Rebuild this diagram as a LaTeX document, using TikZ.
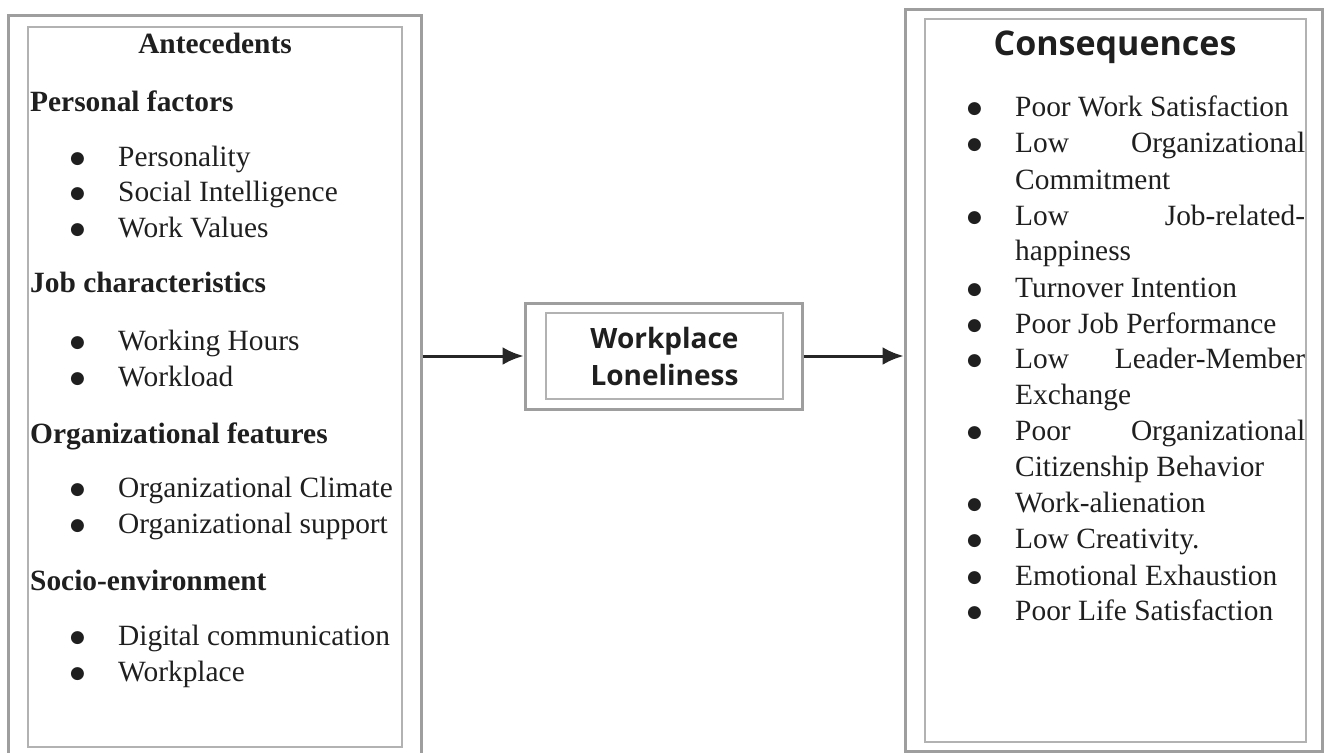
\documentclass[tikz,border=0pt]{standalone}
\usepackage{fontspec}
\setmainfont{Liberation Serif}
\newfontfamily\headfont{Open Sans}
\newfontfamily\dotfont{DejaVu Sans}
\usetikzlibrary{positioning}
\usetikzlibrary{arrows.meta}
\tikzset{
        frame/.style={rectangle, inner sep=0pt},
        % Outer frames
        frame_outer/.style={frame, draw=black!38, line width=3pt},
        % Inner frames
        frame_inner/.style={frame, draw=black!30, line width=1.3pt},
        % List lines
        list_text/.style={anchor=base west, inner sep=0pt, text=black!88, font=\fontsize{29.4}{35}\selectfont},
        % Group headings
        list_head/.style={list_text, font=\fontsize{29.4}{35}\selectfont\bfseries},
        % Sans headings
        sans_head/.style={inner sep=0pt, align=center, text=black!88, font=\headfont\bfseries},
        % Flow arrows
        flow_arrow/.style={-{Latex[length=21pt,width=18pt]}, line width=3pt, draw=black!85}
}
\newcommand{\bul}{\makebox[45pt][l]{\hspace*{-3pt}\raisebox{2.5pt}{\dotfont\fontsize{17}{17}\selectfont ●}}}
\newcommand{\nobul}{\hspace*{45pt}}

\begin{document}
\begin{tikzpicture}[x=1pt, y=-1pt]
            \useasboundingbox (0,0) rectangle (1327,752);
            % frames
            \node[frame_outer, minimum width=413pt, minimum height=754pt] (ante_outer) at (214.5,393) {};
            \node[frame_inner, minimum width=374pt, minimum height=720pt] (ante_inner) at (215,387) {};
            \node[frame_outer, minimum width=277pt, minimum height=106pt] (mid_outer) at (663.5,356) {};
            \node[frame_inner, minimum width=237pt, minimum height=86pt] (mid_inner) at (664.5,356) {};
            \node[frame_outer, minimum width=417pt, minimum height=741pt] (cons_outer) at (1113.5,380.5) {};
            \node[frame_inner, minimum width=381pt, minimum height=723pt] (cons_inner) at (1115.5,380.5) {};

            % antecedents
            \node[list_head, anchor=base] (ante_title) at (215,54) {Antecedents};
            \node[list_head] (pers_head) at (30,111) {Personal factors};
            \node[list_text] (pers_a) at (73,166) {\bul Personality};
            \node[list_text] (pers_b) at (73,201) {\bul Social Intelligence};
            \node[list_text] (pers_c) at (73,237) {\bul Work Values};
            \node[list_head] (job_head) at (30,292) {Job characteristics};
            \node[list_text] (job_a) at (73,350) {\bul Working Hours};
            \node[list_text] (job_b) at (73,386) {\bul Workload};
            \node[list_head] (org_head) at (30,443) {Organizational features};
            \node[list_text] (org_a) at (73,497) {\bul Organizational Climate};
            \node[list_text] (org_b) at (73,533) {\bul Organizational support};
            \node[list_head] (soc_head) at (30,590) {Socio-environment};
            \node[list_text] (soc_a) at (73,645) {\bul Digital communication};
            \node[list_text] (soc_b) at (73,681) {\bul Workplace};

            % middle
            \node[sans_head, font=\headfont\bfseries\fontsize{28}{37}\selectfont] (mid_text) at (mid_inner) {Workplace\\Loneliness};

            % consequences
            \node[sans_head, anchor=base, font=\headfont\bfseries\fontsize{34}{40}\selectfont] (cons_title) at (1115,56) {Consequences};
            \node[list_text] (cons_a) at (970,116) {\bul Poor Work Satisfaction};
            \node[list_text] (cons_b) at (970,152) {\hbox to 335pt{\bul Low\hfill Organizational}};
            \node[list_text] (cons_b2) at (970,189) {\nobul Commitment};
            \node[list_text] (cons_c) at (970,225) {\hbox to 335pt{\bul Low\hfill Job-related-}};
            \node[list_text] (cons_c2) at (970,260) {\nobul happiness};
            \node[list_text] (cons_d) at (970,297) {\bul Turnover Intention};
            \node[list_text] (cons_e) at (970,333) {\bul Poor Job Performance};
            \node[list_text] (cons_f) at (970,368) {\hbox to 335pt{\bul Low\hfill Leader-Member}};
            \node[list_text] (cons_f2) at (970,404) {\nobul Exchange};
            \node[list_text] (cons_g) at (970,440) {\hbox to 335pt{\bul Poor\hfill Organizational}};
            \node[list_text] (cons_g2) at (970,476) {\nobul Citizenship Behavior};
            \node[list_text] (cons_h) at (970,512) {\bul Work-alienation};
            \node[list_text] (cons_i) at (970,548) {\bul Low Creativity.};
            \node[list_text] (cons_j) at (970,585) {\bul Emotional Exhaustion};
            \node[list_text] (cons_k) at (970,620) {\bul Poor Life Satisfaction};

            % arrows
            \draw[flow_arrow] (ante_outer.east |- mid_outer.west) -- (mid_outer.west);
            \draw[flow_arrow] (mid_outer.east) -- (mid_outer.east -| cons_outer.west);
\end{tikzpicture}
\end{document}
